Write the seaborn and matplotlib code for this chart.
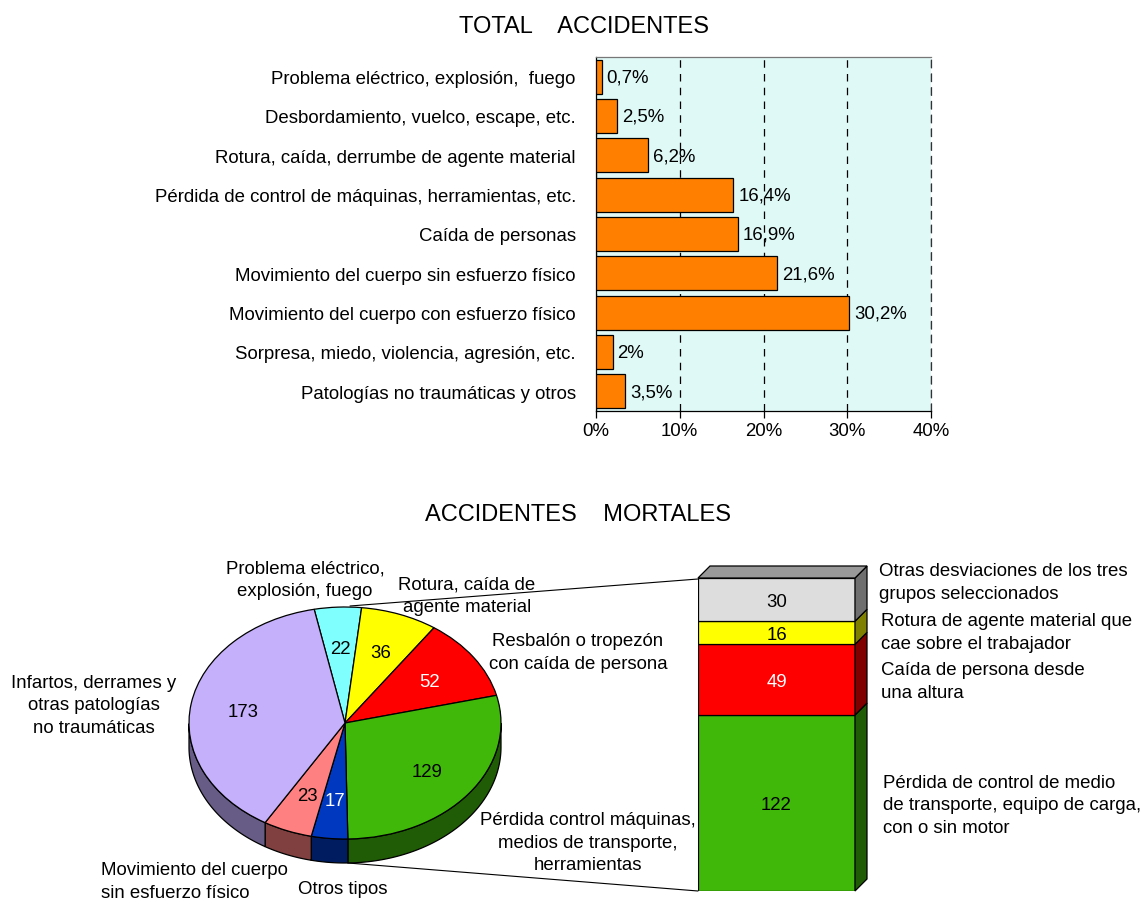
"""Accidentes de trabajo: total by deviation, and fatal ones as pie with stacked bar."""
import matplotlib.pyplot as plt
from matplotlib.ticker import PercentFormatter
from matplotlib.transforms import ScaledTranslation
import numpy as np
import seaborn as sns

# top chart
desviaciones = ['Problema eléctrico, explosión,  fuego',
                'Desbordamiento, vuelco, escape, etc.',
                'Rotura, caída, derrumbe de agente material',
                'Pérdida de control de máquinas, herramientas, etc.',
                'Caída de personas',
                'Movimiento del cuerpo sin esfuerzo físico',
                'Movimiento del cuerpo con esfuerzo físico',
                'Sorpresa, miedo, violencia, agresión, etc.',
                'Patologías no traumáticas y otros']
porcentajes = [0.7, 2.5, 6.2, 16.4, 16.9, 21.6, 30.2, 2, 3.5]

# pie, clockwise from the cyan slice
pie_valores = [22, 36, 52, 129, 17, 23, 173]
pie_colores = ['#80FFFF', '#FFFF00', '#FF0000', '#40B80A', '#0038C0', '#FF8080', '#C4B0FB']
pie_lados = ['#408080', '#808000', '#800000', '#205C05', '#001C60', '#804040', '#675C86']

# stacked bar, bottom to top
barra_valores = [122, 49, 16, 30]
barra_colores = ['#40B80A', '#FF0000', '#FFFF00', '#DDDDDD']
barra_lados = ['#205C05', '#800000', '#808000', '#6F6F6F']
barra_texto = ['black', 'white', 'black', 'black']

W, H = 1145, 902
FS = 13.4
FS_TITULO = 17
DASHES = (0, (6, 5))


def pixel_axes(fig, left, top, right, bottom):
    return fig.add_axes([left / W, 1 - bottom / H, (right - left) / W, (bottom - top) / H])


sns.set_style('white')
plt.rcParams['font.family'] = ['Liberation Sans', 'DejaVu Sans']
plt.rcParams['font.size'] = FS
plt.rcParams['text.color'] = 'black'
plt.rcParams['xtick.labelcolor'] = 'black'
plt.rcParams['ytick.labelcolor'] = 'black'

fig = plt.figure(figsize=(W / 100, H / 100), dpi=100)

# bar chart with percentages
axes = pixel_axes(fig, 596, 57, 931, 411)
axes.set_facecolor('#DFF9F7')
sns.barplot(x=porcentajes, y=desviaciones, color='#FF8000', saturation=1, width=0.86,
            edgecolor='black', linewidth=0.9, orient='h', ax=axes, zorder=3)
axes.set_xlim(0, 40)
axes.set_ylim(8.5, -0.5)
axes.set_xticks([0, 10, 20, 30, 40])
axes.xaxis.set_major_formatter(PercentFormatter(decimals=0))
axes.xaxis.grid(True, color='black', linestyle=DASHES, linewidth=0.9, zorder=1)
axes.set_axisbelow(True)
axes.tick_params(axis='x', bottom=True, length=5, width=0.9, color='black', labelsize=FS, pad=4)
axes.tick_params(axis='y', left=False, labelsize=FS, pad=11)
axes.spines['left'].set_color('black')
axes.spines['bottom'].set_color('black')
axes.spines['top'].set_color('#777777')
axes.spines['right'].set_color('#333333')
axes.spines['right'].set_linestyle(DASHES)
for spine in axes.spines.values():
    spine.set_linewidth(0.9)

# move y labels and bar labels one pixel down
abajo = ScaledTranslation(0, -1 / 100, fig.dpi_scale_trans)
for etiqueta in axes.get_yticklabels():
    etiqueta.set_transform(etiqueta.get_transform() + abajo)
for t in axes.bar_label(axes.containers[0], padding=3.5, fontsize=FS,
                        labels=[f'{v:g}%'.replace('.', ',') for v in porcentajes]):
    t.xyann = (3.5, -1)

# pie with rim; unit circle is stretched into the tilted ellipse
RX, RY, DEPTH = 156, 116, 24
CX, CY = 345, 723
MARGIN = 1.3
pie_axes = pixel_axes(fig, CX - RX * MARGIN, CY - RY * MARGIN, CX + RX * MARGIN, CY + RY * MARGIN)
START = 101.4
wedges, textos = pie_axes.pie(pie_valores, colors=pie_colores, startangle=START, counterclock=False,
                              labels=[str(v) for v in pie_valores], labeldistance=0.66,
                              wedgeprops={'edgecolor': 'black', 'linewidth': 0.9},
                              textprops={'fontsize': FS})
pie_axes.set_aspect('auto')
pie_axes.set_xlim(-MARGIN, MARGIN)
pie_axes.set_ylim(-MARGIN, MARGIN)
abajo_pie = ScaledTranslation(0, -2.5 / 100, fig.dpi_scale_trans)
for texto, valor in zip(textos, pie_valores):
    texto.set_ha('center')
    texto.set_va('center')
    texto.set_color('white' if valor in (52, 17) else 'black')
    texto.set_transform(texto.get_transform() + abajo_pie)

grados = np.cumsum([0] + pie_valores) / sum(pie_valores) * 360
for a, b, lado in zip(grados[:-1], grados[1:], pie_lados):
    t = np.radians(START - np.linspace(a, b, 200))
    t = t[np.sin(t) <= 0]
    if len(t) == 0:
        continue
    x = np.r_[np.cos(t), np.cos(t[::-1])]
    y = np.r_[np.sin(t), np.sin(t[::-1]) - DEPTH / RY]
    pie_axes.fill(x, y, facecolor=lado, edgecolor='black', linewidth=0.9, zorder=0)

# stacked bar with 3D faces
bar_axes = pixel_axes(fig, 698, 578, 855, 891)
total = sum(barra_valores)
dx, dy = 12 / 157, 12 * total / 313
base = 0
for valor, color, lado, c_texto in zip(barra_valores, barra_colores, barra_lados, barra_texto):
    barras = bar_axes.bar(0.5, valor, width=1, bottom=base, color=color,
                          edgecolor='black', linewidth=0.9)
    for t in bar_axes.bar_label(barras, labels=[str(valor)], label_type='center',
                                color=c_texto, fontsize=FS):
        t.xyann = (0, -2)
    bar_axes.fill([1, 1 + dx, 1 + dx, 1], [base, base + dy, base + valor + dy, base + valor],
                  facecolor=lado, edgecolor='black', linewidth=0.9, clip_on=False)
    base += valor
bar_axes.fill([0, dx, 1 + dx, 1], [total, total + dy, total + dy, total],
              facecolor='#999999', edgecolor='black', linewidth=0.9, clip_on=False)
bar_axes.set_xlim(0, 1)
bar_axes.set_ylim(0, total)
bar_axes.axis('off')

# texts and connectors in pixel coordinates
capa = fig.add_axes([0, 0, 1, 1], zorder=5)
capa.set_xlim(0, W)
capa.set_ylim(H, 0)
capa.axis('off')
capa.plot([350, 698], [606, 579], color='black', linewidth=0.8)
capa.plot([348, 698], [863, 891], color='black', linewidth=0.8)

capa.text(584, 27, 'TOTAL    ACCIDENTES', ha='center', va='center', fontsize=FS_TITULO)
capa.text(578, 515, 'ACCIDENTES    MORTALES', ha='center', va='center', fontsize=FS_TITULO)

etiquetas = [
    (305, 580, 'center', 'Problema eléctrico,\nexplosión, fuego'),
    (467, 596, 'center', 'Rotura, caída de\nagente material'),
    (578, 653, 'center', 'Resbalón o tropezón\ncon caída de persona'),
    (94, 706, 'center', 'Infartos, derrames y\notras patologías\nno traumáticas'),
    (588, 843, 'center', 'Pérdida control máquinas,\nmedios de transporte,\nherramientas'),
    (101, 882, 'left', 'Movimiento del cuerpo\nsin esfuerzo físico'),
    (343, 889, 'center', 'Otros tipos'),
    (879, 583, 'left', 'Otras desviaciones de los tres\ngrupos seleccionados'),
    (881, 633, 'left', 'Rotura de agente material que\ncae sobre el trabajador'),
    (881, 682, 'left', 'Caída de persona desde\nuna altura'),
    (883, 806, 'left', 'Pérdida de control de medio\nde transporte, equipo de carga,\ncon o sin motor'),
]
for x, y, ha, texto in etiquetas:
    capa.text(x, y, texto, ha=ha, va='center', fontsize=FS, linespacing=1.4, multialignment=ha)

fig.savefig('out.png', dpi=100)
